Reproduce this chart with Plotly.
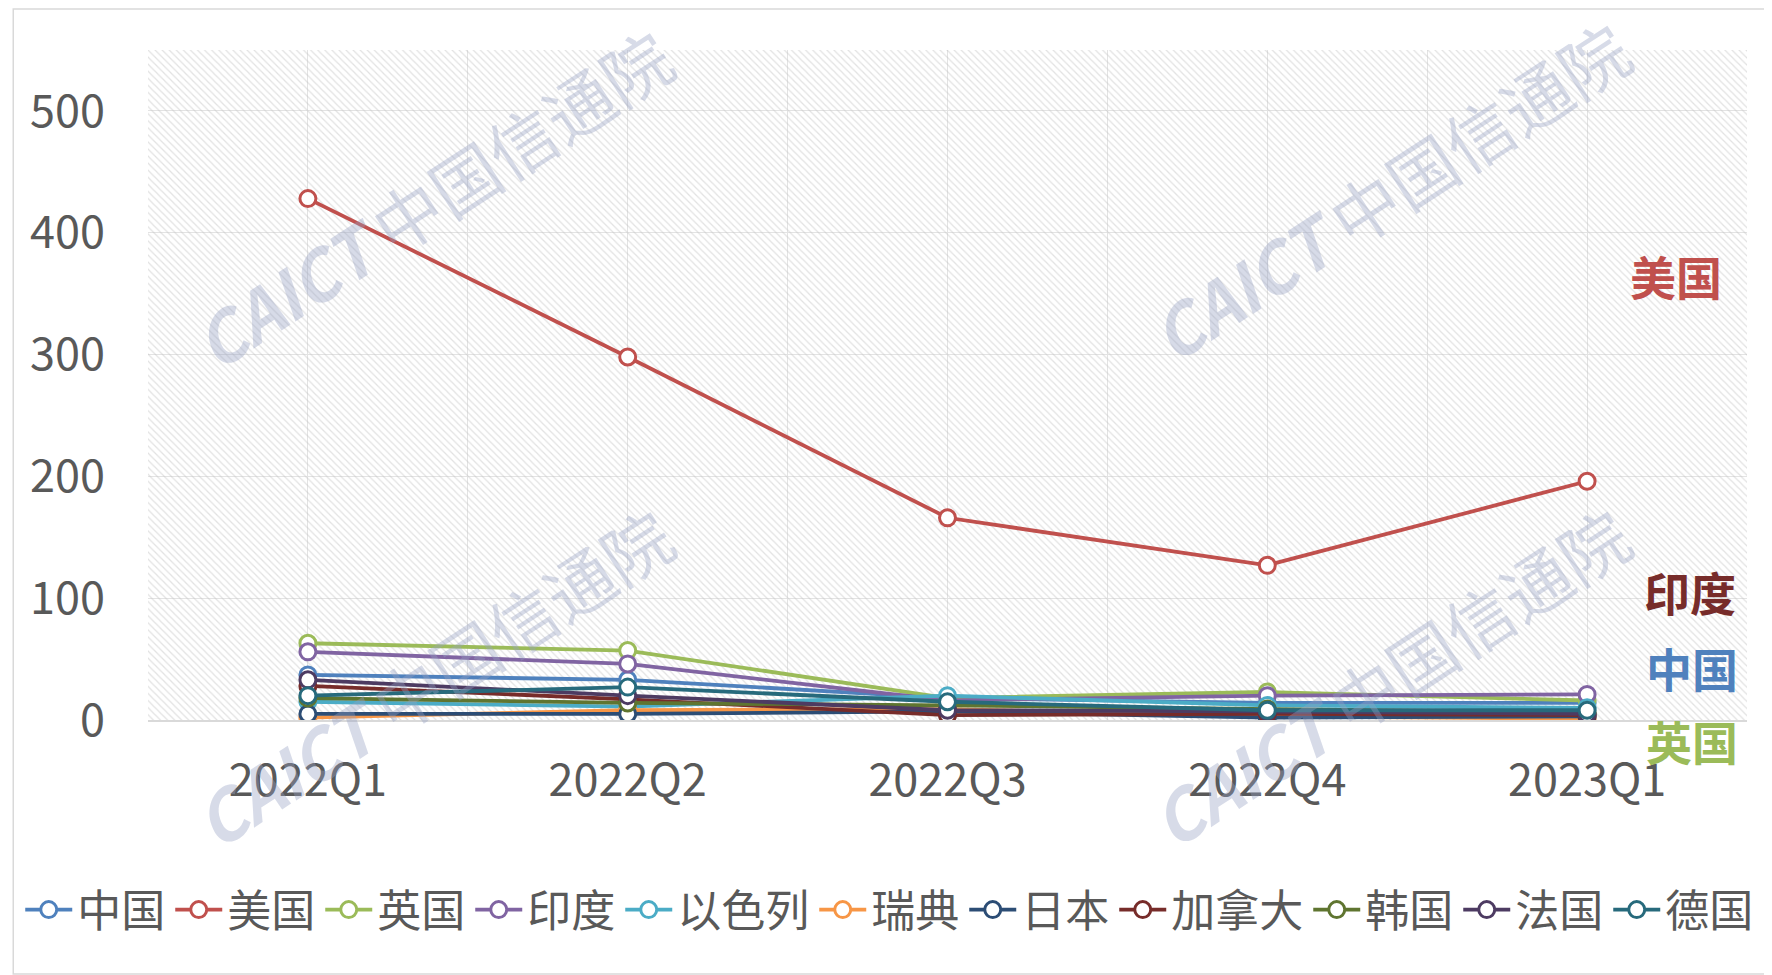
import plotly.graph_objects as go

quarters = ["2022Q1", "2022Q2", "2022Q3", "2022Q4", "2023Q1"]

china   = [37, 33, 18, 14, 14]
usa     = [428, 298, 166, 127, 196]
uk      = [63, 57, 18, 23, 16]
india   = [56, 46, 16, 20, 21]
israel  = [15, 11, 20, 12, 10]
sweden  = [2, 8, 9, 3, 1]
japan   = [5, 5, 7, 2, 3]
canada  = [28, 17, 4, 5, 4]
korea   = [18, 14, 12, 9, 6]
france  = [33, 20, 8, 7, 5]
germany = [20, 27, 15, 8, 8]

series_names = ["中国", "美国", "英国", "印度", "以色列", "瑞典", "日本", "加拿大", "韩国", "法国", "德国"]
series_values = [china, usa, uk, india, israel, sweden, japan, canada, korea, france, germany]
series_colors = ["#4F81BD", "#C0504D", "#9BBB59", "#8064A2", "#4BACC6", "#F79646",
                 "#2C4D75", "#772C2A", "#5F7530", "#4D3B62", "#276A7C"]

Y_MAX = 550
y_ticks = [0, 100, 200, 300, 400, 500]

W, H = 1772, 975
OFF = 8  # page body margin
# plot area in screen coordinates
SL, SR, ST, SB = 145, 1747, 50, 720
PW, PH = SR - SL, SB - ST
ML, MT = SL - OFF, ST - OFF
MR, MB = W - (SR - OFF), H - (SB - OFF)

def px(x):
    return (x - SL) / PW

def py(y):
    return (SB - y) / PH

FONT = "Noto Sans CJK SC, Microsoft YaHei, sans-serif"
xs = list(range(len(quarters)))

fig = go.Figure()

# hatched plot-area background
fig.add_trace(go.Bar(
    x=xs, y=[Y_MAX] * len(xs), width=1,
    marker=dict(color="rgba(0,0,0,0)", line=dict(width=0),
                pattern=dict(shape="\\", fgcolor="#C6C6C6", size=5, solidity=0.25)),
    showlegend=False, hoverinfo="skip",
))

for name, vals, col in zip(series_names, series_values, series_colors):
    fig.add_trace(go.Scatter(
        x=xs, y=vals, name=name, mode="lines+markers",
        line=dict(color=col, width=3.8),
        marker=dict(symbol="circle", size=16, color="white", line=dict(color=col, width=3)),
    ))

# right side labels
side_labels = [("美国", "#C0504D", 1676, 275), ("印度", "#772C2A", 1690, 591),
               ("中国", "#4F81BD", 1692, 667), ("英国", "#9BBB59", 1692, 740)]
for txt, col, x, y in side_labels:
    fig.add_annotation(x=px(x), y=py(y), xref="paper", yref="paper", text="<b>%s</b>" % txt,
                       xanchor="center", yanchor="middle",
                       showarrow=False, font=dict(size=46, color=col, family=FONT))

# watermarks
for x, y in [(430, 198), (1388, 190), (430, 676), (1388, 676)]:
    fig.add_annotation(x=px(x), y=py(y), xref="paper", yref="paper",
                       xanchor="center", yanchor="middle",
                       text="<b><i>CAICT</i></b> 中国信通院", textangle=-33, showarrow=False,
                       font=dict(size=68, color="rgba(150,160,195,0.38)", family=FONT))

# outer border
fig.add_shape(type="rect", xref="paper", yref="paper",
              x0=px(10), x1=px(1770), y0=py(974), y1=py(9),
              line=dict(color="#D9D9D9", width=1.5), layer="below")

fig.update_layout(
    width=W, height=H,
    margin=dict(l=ML, r=MR, t=MT, b=MB),
    paper_bgcolor="white", plot_bgcolor="white",
    font=dict(family=FONT, color="#595959"),
    barmode="overlay",
    legend=dict(orientation="h", x=px(17), xanchor="left", y=py(910), yanchor="middle",
                font=dict(size=44, color="#595959", family=FONT), itemwidth=47,
                tracegroupgap=0, bgcolor="rgba(0,0,0,0)"),
    xaxis=dict(range=[-0.5, len(quarters) - 0.5], tickmode="array", tickvals=xs, ticktext=quarters,
               showgrid=True, gridcolor="#E3E3E3", gridwidth=1,
               minor=dict(tickvals=[i - 0.5 for i in range(len(quarters) + 1)], showgrid=True,
                          gridcolor="#E3E3E3", gridwidth=1, ticks=""),
               showline=True, linecolor="#D9D9D9", linewidth=2, ticks="", zeroline=False,
               tickfont=dict(size=45, color="#595959", family=FONT), ticklabelstandoff=20),
    yaxis=dict(range=[0, Y_MAX], tickvals=y_ticks, showgrid=True, gridcolor="#E3E3E3", gridwidth=1,
               zeroline=False, showline=False, ticks="",
               tickfont=dict(size=45, color="#595959", family=FONT), ticklabelstandoff=42),
    hovermode="closest",
)

fig.write_html("out.html")
